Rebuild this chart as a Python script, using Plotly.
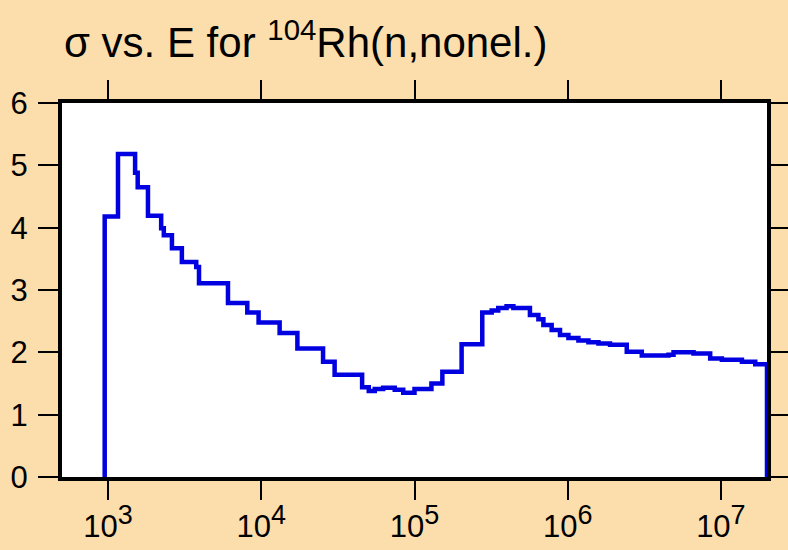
import plotly.graph_objects as go

# Bin lower edges (eV) and cross sections (b)
energy_edges = [950, 1160, 1500, 1560, 1820, 2220, 2310, 2610, 3030, 3760,
                3920, 6060, 8100, 9600, 1.317e4, 1.72e4, 2.53e4, 3.01e4, 4.55e4, 5.03e4,
                5.5e4, 6.24e4, 7.43e4, 8.44e4, 1.0e5, 1.29e5, 1.52e5, 2.03e5, 2.77e5, 3.19e5,
                3.52e5, 3.99e5, 4.42e5, 5.67e5, 6.44e5, 6.94e5, 7.86e5, 8.91e5, 1.011e6, 1.175e6,
                1.366e6, 1.588e6, 1.89e6, 2.43e6, 3.046e6, 4.552e6, 4.908e6, 6.631e6, 8.514e6, 1.015e7,
                1.372e7, 1.676e7]
sigma = [4.18, 5.18, 4.88, 4.65, 4.19, 3.99, 3.88, 3.67, 3.45, 3.37,
         3.11, 2.79, 2.64, 2.48, 2.31, 2.06, 1.85, 1.64, 1.44, 1.38,
         1.41, 1.43, 1.40, 1.35, 1.41, 1.50, 1.69, 2.13, 2.64, 2.67,
         2.71, 2.74, 2.71, 2.60, 2.53, 2.44, 2.36, 2.28, 2.23, 2.19,
         2.16, 2.14, 2.12, 2.01, 1.95, 1.96, 2.00, 1.98, 1.90, 1.88,
         1.85, 1.81]
energy_max = 2e7

x_tick_vals = [1e3, 1e4, 1e5, 1e6, 1e7]
x_tick_exps = ["3", "4", "5", "6", "7"]
y_tick_vals = [0, 1, 2, 3, 4, 5, 6]

x_tick_text = ["10<sup><span style='font-size:27px'>%s</span></sup>" % e for e in x_tick_exps]

xs = [energy_edges[0]] + list(energy_edges) + [energy_max, energy_max]
ys = [0] + list(sigma) + [sigma[-1], 0]

FONT = "Liberation Sans, Arial, Helvetica, sans-serif"

fig = go.Figure()
fig.add_trace(go.Scatter(x=xs, y=ys, mode="lines",
                         line=dict(shape="hv", color="#0000E0", width=4.5),
                         hoverinfo="skip", showlegend=False))

fig.update_layout(
    width=788, height=550,
    margin=dict(l=62, r=21, t=103, b=73, pad=0, autoexpand=False),
    paper_bgcolor="#FCDEAC",
    plot_bgcolor="#FFFFFF",
    font=dict(family=FONT, size=31, color="#000000"),
    title=dict(text="σ vs. E for <sup>104</sup>Rh(n,nonel.)",
               font=dict(family=FONT, size=42, color="#000000"),
               xref="container", x=64/788, xanchor="left",
               yref="container", y=1 - 28/550, yanchor="top"),
    xaxis=dict(type="log", range=[2.69897, 7.30103], automargin=False,
               tickvals=x_tick_vals, ticktext=x_tick_text,
               ticks="outside", ticklen=19, tickwidth=2, tickcolor="#000000",
               showline=True, linewidth=4, linecolor="#000000", mirror="ticks",
               showgrid=False, zeroline=False, ticklabelstandoff=0,
               tickfont=dict(family=FONT, size=31, color="#000000")),
    yaxis=dict(range=[0, 6], tickvals=y_tick_vals, automargin=False,
               ticks="outside", ticklen=20, tickwidth=2, tickcolor="#000000",
               showline=True, linewidth=4, linecolor="#000000", mirror="ticks",
               showgrid=False, zeroline=False, ticklabelstandoff=4,
               tickfont=dict(family=FONT, size=31, color="#000000")),
)

fig.write_html("out.html",
               config={"displayModeBar": False},
               post_script="document.body.style.margin='0';document.body.style.background='#FCDEAC';")
